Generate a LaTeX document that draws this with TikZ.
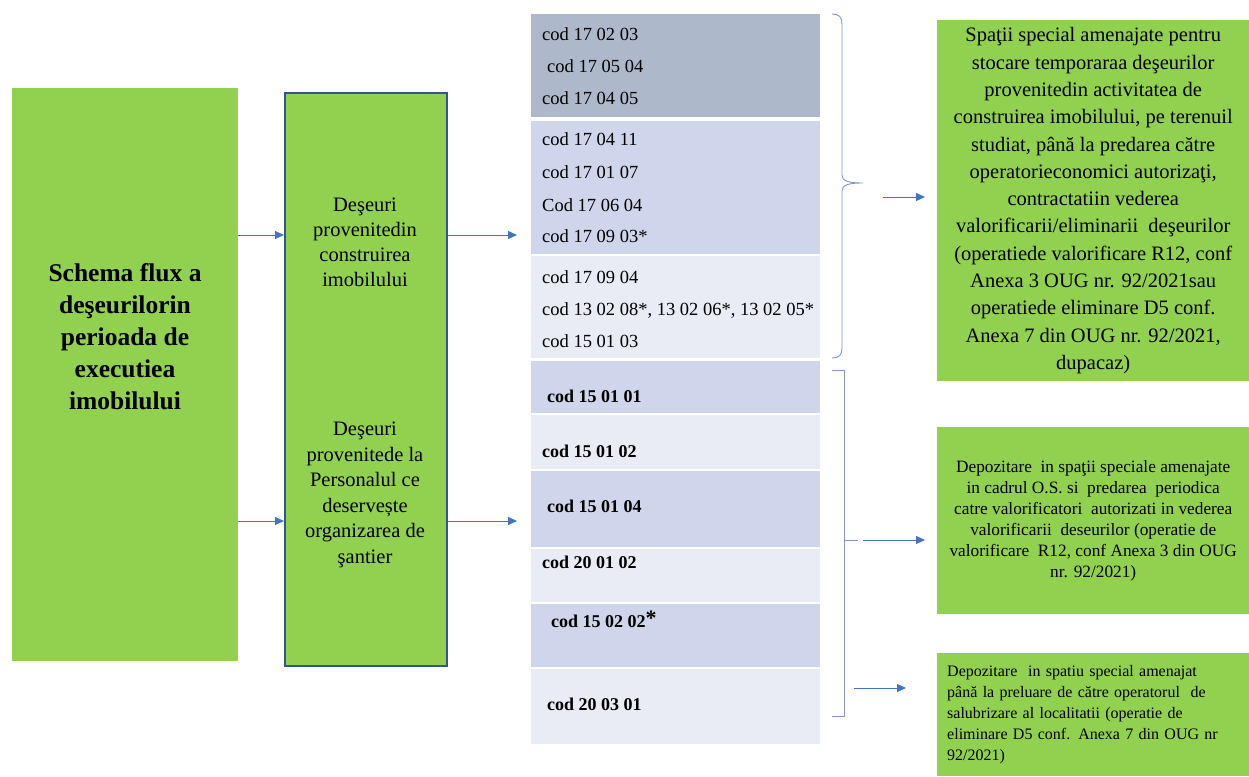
\documentclass[tikz,border=0pt]{standalone}
\usepackage{fontspec}
\setmainfont{Liberation Serif}
\usetikzlibrary{arrows.meta}
\definecolor{grn}{HTML}{92D050}
\definecolor{codA}{HTML}{ADB9CA}
\definecolor{codB}{HTML}{CFD5EA}
\definecolor{codC}{HTML}{E9EBF5}
\definecolor{lnblue}{HTML}{4472C4}
\definecolor{bordblue}{HTML}{2F5597}
\definecolor{brcblue}{HTML}{8296C8}
\begin{document}
\begin{tikzpicture}[x=1pt,y=-1pt,
	box/.style={fill=grn,inner sep=0pt,anchor=north west},
	seg/.style={inner sep=0pt,anchor=north west,minimum width=289pt},
	code/.style={anchor=mid west,inner sep=0pt,font=\fontsize{18.5}{20}\selectfont},
	bcode/.style={code,font=\fontsize{18}{20}\selectfont\bfseries},
	arr/.style={draw=lnblue,line width=0.8pt,-{Triangle[length=9pt,width=8pt]}},
	brc/.style={draw=brcblue,line width=0.9pt}]
	
	\useasboundingbox (0,0) rectangle (1249,776);
	
	% left blocks
	\node [box,minimum width=226pt,minimum height=573pt] (flux) at (12,88) {};
	\node [font=\fontsize{25.5}{32}\selectfont\bfseries,align=center] (fluxtxt) at (125,337)
		{Schema flux a\\deşeurilorin\\perioada de\\executiea\\imobilului};
	
	\node [box,draw=bordblue,line width=1.5pt,minimum width=162pt,minimum height=573pt] (surse) at (284,92) {};
	\node [font=\fontsize{20.5}{25}\selectfont,align=center] (constr) at (365,242)
		{Deşeuri\\provenitedin\\construirea\\imobilului};
	\node [font=\fontsize{20.5}{25.5}\selectfont,align=center] (person) at (365,495)
		{Deşeuri\\provenitede la\\Personalul ce\\deservește\\organizarea de\\şantier};
	
	% code column
	\node [seg,fill=codA,minimum height=103pt] (segA) at (531,14) {};
	\node [seg,fill=codB,minimum height=133pt] (segB) at (531,121) {};
	\node [seg,fill=codC,minimum height=102pt] (segC) at (531,256) {};
	\node [seg,fill=codB,minimum height=52pt] (segD) at (531,361) {};
	\node [seg,fill=codC,minimum height=54pt] (segE) at (531,415) {};
	\node [seg,fill=codB,minimum height=76pt] (segF) at (531,471) {};
	\node [seg,fill=codC,minimum height=53pt] (segG) at (531,549) {};
	\node [seg,fill=codB,minimum height=63pt] (segH) at (531,604) {};
	\node [seg,fill=codC,minimum height=75pt] (segI) at (531,669) {};
	
	\node [code] (c1) at (542,38) {cod 17 02 03};
	\node [code] (c2) at (547,70) {cod 17 05 04};
	\node [code] (c3) at (542,102) {cod 17 04 05};
	\node [code] (c4) at (542,143) {cod 17 04 11};
	\node [code] (c5) at (542,176) {cod 17 01 07};
	\node [code] (c6) at (542,209) {Cod 17 06 04};
	\node [code] (c7) at (542,240) {cod 17 09 03*};
	\node [code] (c8) at (542,281) {cod 17 09 04};
	\node [code] (c9) at (542,313) {cod 13 02 08*, 13 02 06*, 13 02 05*};
	\node [code] (c10) at (542,345) {cod 15 01 03};
	\node [bcode] (c11) at (547,400) {cod 15 01 01};
	\node [bcode] (c12) at (542,455) {cod 15 01 02};
	\node [bcode] (c13) at (547,510) {cod 15 01 04};
	\node [bcode] (c14) at (542,566) {cod 20 01 02};
	\node [bcode] (c15) at (551,625) {cod 15 02 02\raisebox{2pt}{\fontsize{22}{22}\selectfont*}};
	\node [bcode] (c16) at (547,708) {cod 20 03 01};
	
	% right blocks
	\node [box,minimum width=312pt,minimum height=361pt,align=center,font=\fontsize{20.5}{27.3}\selectfont] (stocare) at (937,20)
		{Spaţii special amenajate pentru\\stocare temporaraa deşeurilor\\provenitedin activitatea de\\construirea imobilului, pe terenuil\\studiat, până la predarea către\\operatorieconomici autorizaţi,\\contractatiin vederea\\valorificarii/eliminarii~ deşeurilor\\(operatiede valorificare R12, conf\\Anexa 3 OUG nr. 92/2021sau\\operatiede eliminare D5 conf.\\Anexa 7 din OUG nr. 92/2021,\\dupacaz)};
	\node [box,minimum width=312pt,minimum height=187pt,align=center,font=\fontsize{17.3}{21}\selectfont] (depozit) at (937,427)
		{Depozitare~ in spaţii speciale amenajate\\in cadrul O.S. si~ predarea~ periodica\\catre valorificatori~ autorizati in vederea\\valorificarii~ deseurilor (operatie de\\valorificare~ R12, conf Anexa 3 din OUG\\nr. 92/2021)};
	\node [box,minimum height=123pt,inner xsep=10pt,text width=292pt,align=left,font=\fontsize{16}{21}\selectfont] (salubr) at (937,653)
		{Depozitare~ in spatiu special amenajat\\până la preluare de către operatorul~ de\\salubrizare al localitatii (operatie de\\eliminare D5 conf. Anexa 7 din OUG nr\\92/2021)};
	
	% brace and bracket
	\draw [brc] (832,14) .. controls (839,14) and (842,17) .. (842,24) -- (842,175)
		.. controls (842,181) and (848,183) .. (863,183)
		.. controls (848,183) and (842,185) .. (842,191) -- (842,348)
		.. controls (842,355) and (839,358) .. (832,358);
	\draw [brc] (832,370) -| (844,716) -- (832,716);
	\draw [brc] (844,540) -- (858,540);
	
	% connectors
	\coordinate (r1) at (0,235);
	\coordinate (r2) at (0,521);
	\coordinate (q1) at (883,197);
	\coordinate (q2) at (863,540);
	\coordinate (q3) at (854,688);
	\draw [arr] (flux.east |- r1) -- (surse.west |- r1);
	\draw [arr] (flux.east |- r2) -- (surse.west |- r2);
	\draw [arr,shorten >=14pt] (surse.east |- r1) -- (segB.west |- r1);
	\draw [arr,shorten >=14pt] (surse.east |- r2) -- (segF.west |- r2);
	\draw [arr,shorten >=12pt] (q1) -- (q1 -| stocare.west);
	\draw [arr,shorten >=12pt] (q2) -- (q2 -| depozit.west);
	\draw [arr,shorten >=31pt] (q3) -- (q3 -| salubr.west);
\end{tikzpicture}
\end{document}
